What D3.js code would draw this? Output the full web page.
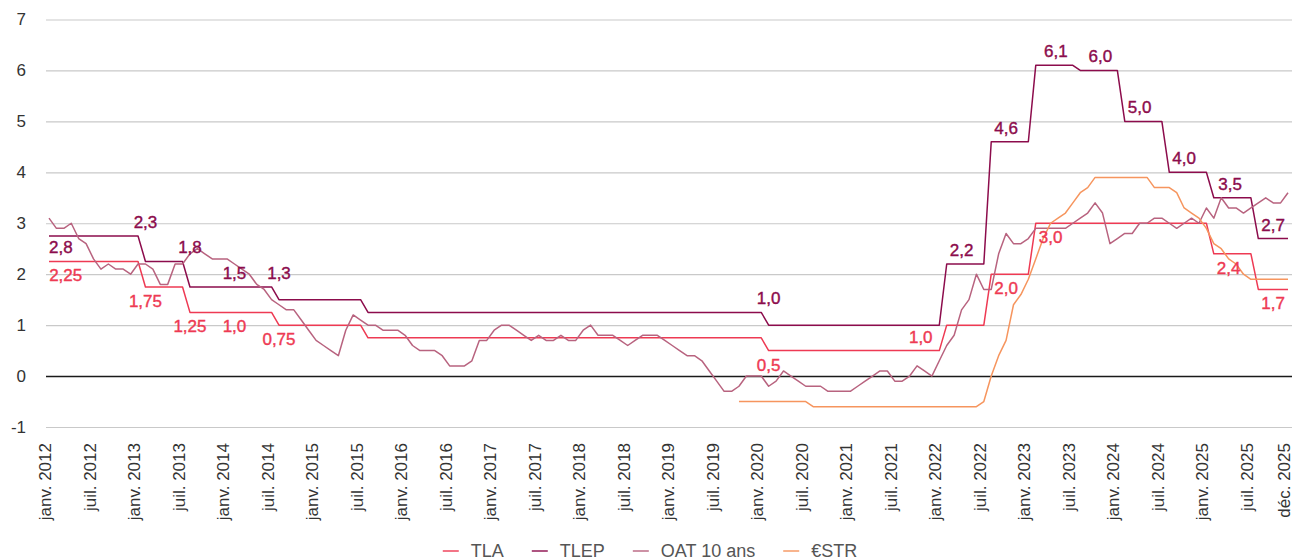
<!DOCTYPE html>
<html>
<head>
<meta charset="utf-8">
<script src="https://cdn.jsdelivr.net/npm/d3@7"></script>
<style>
  body { margin: 0; background: #fff; }
  text { font-family: "Liberation Sans", Arial, Helvetica, sans-serif; }
</style>
</head>
<body>
<svg id="chart" width="1296" height="560"></svg>
<script>
// categories: one point per month, janv. 2012 -> déc. 2025
const months = d3.timeMonth.range(new Date(2012, 0, 1), new Date(2026, 0, 1));
const tickIdx = d3.range(0, 168, 6).concat([167]);

// regulated rates, as [first month, rate]
const tlaSteps = [
  ["2012-01", 2.25], ["2013-02", 1.75], ["2013-08", 1.25], ["2014-08", 1.0],
  ["2015-08", 0.75], ["2020-02", 0.5], ["2022-02", 1.0], ["2022-08", 2.0],
  ["2023-02", 3.0], ["2025-02", 2.4], ["2025-08", 1.7]
];
const tlepSteps = [
  ["2012-01", 2.75], ["2013-02", 2.25], ["2013-08", 1.75], ["2014-08", 1.5],
  ["2015-08", 1.25], ["2020-02", 1.0], ["2022-02", 2.2], ["2022-08", 4.6],
  ["2023-02", 6.1], ["2023-08", 6.0], ["2024-02", 5.0], ["2024-08", 4.0],
  ["2025-02", 3.5], ["2025-08", 2.7]
];

// OAT 10 ans, monthly
const oat = [
  3.1, 2.9, 2.9, 3.0, 2.7, 2.6, 2.3, 2.1, 2.2, 2.1, 2.1, 2.0,   // 2012
  2.2, 2.2, 2.1, 1.8, 1.8, 2.2, 2.2, 2.4, 2.5, 2.4, 2.3, 2.3,   // 2013
  2.3, 2.2, 2.1, 2.0, 1.8, 1.7, 1.5, 1.4, 1.3, 1.3, 1.1, 0.9,   // 2014
  0.7, 0.6, 0.5, 0.4, 0.9, 1.2, 1.1, 1.0, 1.0, 0.9, 0.9, 0.9,   // 2015
  0.8, 0.6, 0.5, 0.5, 0.5, 0.4, 0.2, 0.2, 0.2, 0.3, 0.7, 0.7,   // 2016
  0.9, 1.0, 1.0, 0.9, 0.8, 0.7, 0.8, 0.7, 0.7, 0.8, 0.7, 0.7,   // 2017
  0.9, 1.0, 0.8, 0.8, 0.8, 0.7, 0.6, 0.7, 0.8, 0.8, 0.8, 0.7,   // 2018
  0.6, 0.5, 0.4, 0.4, 0.3, 0.1, -0.1, -0.3, -0.3, -0.2, 0.0, 0.0, // 2019
  0.0, -0.2, -0.1, 0.1, 0.0, -0.1, -0.2, -0.2, -0.2, -0.3, -0.3, -0.3, // 2020
  -0.3, -0.2, -0.1, 0.0, 0.1, 0.1, -0.1, -0.1, 0.0, 0.2, 0.1, 0.0, // 2021
  0.3, 0.6, 0.8, 1.3, 1.5, 2.0, 1.7, 1.7, 2.4, 2.8, 2.6, 2.6,   // 2022
  2.7, 2.9, 2.9, 2.9, 2.9, 2.9, 3.0, 3.1, 3.2, 3.4, 3.2, 2.6,   // 2023
  2.7, 2.8, 2.8, 3.0, 3.0, 3.1, 3.1, 3.0, 2.9, 3.0, 3.1, 3.0,   // 2024
  3.3, 3.1, 3.5, 3.3, 3.3, 3.2, 3.3, 3.4, 3.5, 3.4, 3.4, 3.6    // 2025
];

// €STR, monthly from oct. 2019
const estrStart = "2019-10";
const estr = [
  -0.5, -0.5, -0.5,                                                   // 2019
  -0.5, -0.5, -0.5, -0.5, -0.5, -0.5, -0.5, -0.6, -0.6, -0.6, -0.6, -0.6, // 2020
  -0.6, -0.6, -0.6, -0.6, -0.6, -0.6, -0.6, -0.6, -0.6, -0.6, -0.6, -0.6, // 2021
  -0.6, -0.6, -0.6, -0.6, -0.6, -0.6, -0.5, 0.0, 0.4, 0.7, 1.4, 1.6,  // 2022
  1.9, 2.3, 2.7, 3.0, 3.1, 3.2, 3.4, 3.6, 3.7, 3.9, 3.9, 3.9,        // 2023
  3.9, 3.9, 3.9, 3.9, 3.9, 3.7, 3.7, 3.7, 3.6, 3.3, 3.2, 3.1,        // 2024
  2.9, 2.6, 2.5, 2.3, 2.2, 2.0, 1.9, 1.9, 1.9, 1.9, 1.9, 1.9         // 2025
];

// value labels: month index, anchor value, text, side
const tlepLabels = [
  [1.6, 2.8, "2,8", "below"], [13, 2.75, "2,3", "above"], [19, 2.25, "1,8", "above"],
  [25, 1.75, "1,5", "above"], [31, 1.75, "1,3", "above"], [97, 1.25, "1,0", "above"],
  [123, 2.2, "2,2", "above"], [129, 4.6, "4,6", "above"], [135.7, 6.1, "6,1", "above"],
  [141.7, 6.0, "6,0", "above"], [147, 5.0, "5,0", "above"], [153, 4.0, "4,0", "above"],
  [159.2, 3.5, "3,5", "above"], [165, 2.7, "2,7", "above"]
];
const tlaLabels = [
  [2.25, 2.25, "2,25", "below"], [13, 1.75, "1,75", "below"], [19, 1.25, "1,25", "below"],
  [25, 1.25, "1,0", "below"], [31, 1.0, "0,75", "below"], [97, 0.5, "0,5", "below"],
  [117.5, 0.5, "1,0", "above"], [129, 2.0, "2,0", "below"], [135, 3.0, "3,0", "below"],
  [159, 2.4, "2,4", "below"], [165, 1.7, "1,7", "below"]
];

const colors = { tla: "#ee3a53", tlep: "#8c0c4c", oat: "#b8637f", estr: "#f6955e" };

const key = d3.timeFormat("%Y-%m");
const monthKeys = months.map(key);

function expandSteps(steps) {
  return monthKeys.map(k => {
    let v = null;
    steps.forEach(s => { if (s[0] <= k) v = s[1]; });
    return v;
  });
}

const tla = expandSteps(tlaSteps);
const tlep = expandSteps(tlepSteps);
const estrOffset = monthKeys.indexOf(estrStart);
const estrFull = monthKeys.map((k, i) => i >= estrOffset ? estr[i - estrOffset] : null);

const fr = d3.timeFormatLocale({
  dateTime: "%A %e %B %Y à %X", date: "%d/%m/%Y", time: "%H:%M:%S",
  periods: ["AM", "PM"],
  days: ["dimanche", "lundi", "mardi", "mercredi", "jeudi", "vendredi", "samedi"],
  shortDays: ["dim.", "lun.", "mar.", "mer.", "jeu.", "ven.", "sam."],
  months: ["janvier", "février", "mars", "avril", "mai", "juin", "juillet", "août", "septembre", "octobre", "novembre", "décembre"],
  shortMonths: ["janv.", "févr.", "mars", "avr.", "mai", "juin", "juil.", "août", "sept.", "oct.", "nov.", "déc."]
});
const fmt = fr.format("%b %Y");

const svg = d3.select("#chart");

const x = d3.scaleLinear().domain([0, months.length - 1]).range([49, 1288]);
const y = d3.scaleLinear().domain([-1, 7]).range([427, 19.5]);

// grid + y labels
const gridLeft = 46, gridRight = 1292;
const yAxis = svg.append("g")
  .attr("transform", `translate(${gridRight},0)`)
  .call(d3.axisLeft(y)
    .tickValues(d3.range(-1, 8))
    .tickSize(gridRight - gridLeft)
    .tickPadding(20)
    .tickFormat(d => String(d)));
yAxis.select(".domain").remove();
yAxis.selectAll(".tick line")
  .attr("stroke", d => d === 0 ? "#1a1a1a" : "#c9c9c9")
  .attr("stroke-width", d => d === 0 ? 1.6 : 1.2);
yAxis.selectAll(".tick text")
  .attr("fill", "#333")
  .style("font-size", "17px");

// x labels
const xAxis = svg.append("g")
  .attr("transform", "translate(0,443)")
  .call(d3.axisBottom(x).tickValues(tickIdx).tickSize(0).tickFormat(i => fmt(months[i])));
xAxis.select(".domain").remove();
xAxis.selectAll(".tick text")
  .attr("transform", "rotate(-90)")
  .attr("text-anchor", "end")
  .attr("x", 0)
  .attr("y", 1.5)
  .attr("dy", 0)
  .attr("fill", "#333")
  .style("font-size", "17px");

// lines
const line = d3.line()
  .defined(d => d != null)
  .x((d, i) => x(i))
  .y(d => y(d));

const series = [
  { name: "TLA", values: tla, color: colors.tla },
  { name: "TLEP", values: tlep, color: colors.tlep },
  { name: "OAT 10 ans", values: oat, color: colors.oat },
  { name: "€STR", values: estrFull, color: colors.estr }
];

svg.append("g")
  .selectAll("path")
  .data(series)
  .join("path")
  .attr("d", d => line(d.values))
  .attr("fill", "none")
  .attr("stroke", d => d.color)
  .attr("stroke-width", 1.5)
  .attr("stroke-linejoin", "round");

// value labels
function drawLabels(labels, color) {
  svg.append("g")
    .selectAll("text")
    .data(labels)
    .join("text")
    .attr("x", d => x(d[0]))
    .attr("y", d => y(d[1]) + (d[3] === "above" ? -8 : 20))
    .attr("text-anchor", "middle")
    .attr("fill", color)
    .attr("stroke", color)
    .attr("stroke-width", 0.4)
    .style("font-size", "17px")
    .text(d => d[2]);
}
drawLabels(tlepLabels, colors.tlep);
drawLabels(tlaLabels, colors.tla);

// legend
const legend = svg.append("g");
let lx = 0;
series.forEach(s => {
  const item = legend.append("g").attr("transform", `translate(${lx},0)`);
  item.append("line")
    .attr("x1", 0).attr("x2", 16).attr("y1", 551).attr("y2", 551)
    .attr("stroke", s.color).attr("stroke-width", 2).attr("opacity", 0.7);
  const t = item.append("text")
    .attr("x", 28).attr("y", 557)
    .attr("fill", "#555")
    .style("font-size", "18px")
    .text(s.name);
  lx += 28 + t.node().getComputedTextLength() + 28;
});
const legendW = lx - 28;
legend.attr("transform", `translate(${(1296 - legendW) / 2 + 2},0)`);
</script>
</body>
</html>
